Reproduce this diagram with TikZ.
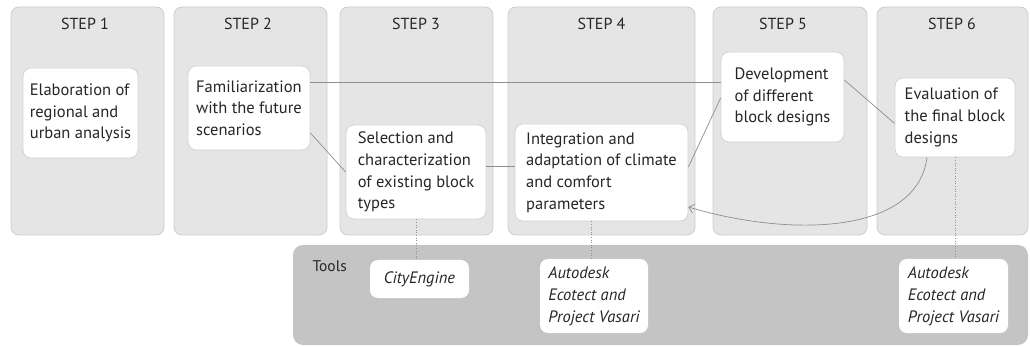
\documentclass[tikz,border=0pt]{standalone}
\usepackage{fontspec}
\setmainfont{PT Sans}
\usetikzlibrary{arrows.meta,calc}
\definecolor{colfill}{HTML}{E5E5E5}
\definecolor{colborder}{HTML}{CDCDCD}
\definecolor{panelfill}{HTML}{C4C4C4}
\definecolor{boxborder}{HTML}{D2D2D2}
\definecolor{linegray}{HTML}{8E8E8E}
\begin{document}
\begin{tikzpicture}[x=1pt,y=-1pt,
  column/.style={draw=colborder,fill=colfill,rounded corners=8pt,line width=0.8pt},
  panel/.style={fill=panelfill,rounded corners=10pt},
  title/.style={font=\fontsize{16}{19}\selectfont,text=black!85},
  stepbox/.style={draw=boxborder,fill=white,rounded corners=8pt,line width=0.8pt,
     align=left,font=\fontsize{16.5}{21.7}\selectfont,inner xsep=4pt,inner ysep=0pt,text=black!85},
  toolbox/.style={fill=white,rounded corners=8pt,align=left,
     font=\fontsize{16.5}{22}\selectfont\itshape,inner xsep=4pt,inner ysep=0pt,text=black!85},
  conn/.style={draw=linegray,line width=0.7pt},
  dot/.style={draw=linegray,dotted,line width=0.6pt}
]
\useasboundingbox (0,0) rectangle (1030,347);
% columns
\draw[column] (11,7) rectangle (164,235);
\draw[column] (174,7) rectangle (327,235);
\draw[column] (340,7) rectangle (493,235);
\draw[column] (508,7) rectangle (695,235);
\draw[column] (713,7) rectangle (867,235);
\draw[column] (877,7) rectangle (1028,235);
\node[title] (s1) at (85,24) {STEP 1};
\node[title] (s2) at (248,24) {STEP 2};
\node[title] (s3) at (416,24) {STEP 3};
\node[title] (s4) at (601.5,24) {STEP 4};
\node[title] (s5) at (783,24) {STEP 5};
\node[title] (s6) at (952,24) {STEP 6};
% tools panel
\fill[panel] (293,245) rectangle (1028,345);
\node[font=\fontsize{15.5}{18}\selectfont,text=black!85,anchor=west] (tl) at (309,266) {Tools};
% step boxes
\node[stepbox,minimum width=115pt,minimum height=90pt] (b1) at (80.5,113) {Elaboration of\\regional and\\urban analysis};
\node[stepbox,minimum width=122pt,minimum height=84pt] (b2) at (249,108) {Familiarization\\with the future\\scenarios};
\node[stepbox,minimum width=140pt,minimum height=94pt] (b3) at (416,172) {Selection and\\characterization\\of existing block\\types};
\node[stepbox,minimum width=173pt,minimum height=97pt] (b4) at (601.5,172.5) {Integration and\\adaptation of climate\\and comfort\\parameters};
\node[stepbox,minimum width=123pt,minimum height=90pt] (b5) at (782.5,97) {Development\\of different\\block designs};
\node[stepbox,minimum width=120pt,minimum height=79pt] (b6) at (955,117.5) {Evaluation of\\the final block\\designs};
% tool boxes
\node[toolbox,minimum width=99pt,minimum height=38pt] (t1) at (419.5,279) {CityEngine};
\node[toolbox,minimum width=108pt,minimum height=74pt] (t2) at (594,296) {Autodesk\\Ecotect and\\Project Vasari};
\node[toolbox,minimum width=109pt,minimum height=74pt] (t3) at (953.5,296) {Autodesk\\Ecotect and\\Project Vasari};
% connectors
\coordinate (p1) at ([yshift=26pt]b2.east);
\draw[conn] (p1) -- (p1 -| b5.west);
\draw[conn] ([yshift=-25pt]b2.east) -- (b3.west);
\coordinate (p2) at ([yshift=6pt]b3.east);
\draw[conn] (p2) -- (p2 -| b4.west);
\draw[conn] ([yshift=5.5pt]b4.east) -- ([yshift=-1pt]b5.west);
\draw[conn] ([yshift=17pt]b5.east) -- ([yshift=-6pt]b6.west);
\draw[conn,-{Straight Barb[length=5pt,width=9pt]}] ([xshift=-28pt]b6.south) .. controls +(-10,78) and +(100,30) .. ([yshift=-34.5pt]b4.east);
% dotted
\draw[dot] (b3.south) -- (b3.south |- t1.north);
\coordinate (q2) at ([xshift=-10.5pt]b4.south);
\draw[dot] (q2) -- (q2 |- t2.north);
\draw[dot] (b6.south) -- (b6.south |- t3.north);
\end{tikzpicture}
\end{document}
